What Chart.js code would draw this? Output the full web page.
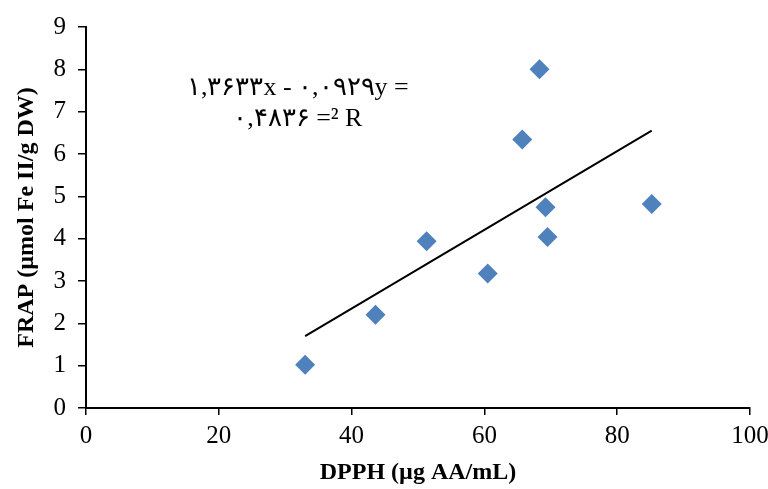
<!DOCTYPE html>
<html>
<head>
<meta charset="utf-8">
<script src="https://cdn.jsdelivr.net/npm/chart.js@4.4.1/dist/chart.umd.min.js"></script>
<style>
  html, body { margin: 0; padding: 0; background: #fff; }
  #wrap { width: 768px; height: 489px; }
</style>
</head>
<body>
<div id="wrap"><canvas id="chart" width="768" height="489"></canvas></div>
<script>
// values
const dpph = [33.0, 43.6, 51.3, 60.5, 65.7, 68.3, 69.2, 69.5, 85.2];
const frap = [1.02, 2.20, 3.94, 3.18, 6.34, 8.00, 4.74, 4.04, 4.82];

// trendline endpoints (y = 0.0929x - 1.3633)
const trendX = [33.0, 85.2];
const trendY = [1.70, 6.55];

const eqLines = ['۱,۳۶۳۳x - ۰,۰۹۲۹y =', '۰,۴۸۳۶ =² R'];
const eqAt = { x: 31.9, y: 7.56 };

const FONT = '"Liberation Serif", "Times New Roman", serif';

const equationLabel = {
  id: 'equationLabel',
  afterDatasetsDraw(chart) {
    const { ctx, scales } = chart;
    const cx = scales.x.getPixelForValue(eqAt.x);
    const cy = scales.y.getPixelForValue(eqAt.y);
    ctx.save();
    ctx.fillStyle = '#000';
    ctx.font = '26px ' + FONT;
    ctx.textAlign = 'center';
    ctx.textBaseline = 'middle';
    ctx.direction = 'ltr';
    eqLines.forEach((t, i) => ctx.fillText(t, cx, cy + i * 31));
    ctx.restore();
  }
};

new Chart(document.getElementById('chart'), {
  type: 'scatter',
  data: {
    datasets: [
      {
        label: 'FRAP',
        data: dpph.map((x, i) => ({ x, y: frap[i] })),
        pointStyle: 'rectRot',
        pointRadius: 10,
        pointHoverRadius: 10,
        backgroundColor: '#4F81BD',
        borderColor: '#4F81BD',
        borderWidth: 0
      },
      {
        type: 'line',
        label: 'trend',
        data: trendX.map((x, i) => ({ x, y: trendY[i] })),
        borderColor: '#000',
        borderWidth: 2,
        pointRadius: 0,
        fill: false
      }
    ]
  },
  options: {
    responsive: false,
    animation: false,
    layout: { padding: { top: 26, right: 18, left: 10, bottom: 0 } },
    plugins: { legend: { display: false }, tooltip: { enabled: false } },
    scales: {
      x: {
        type: 'linear',
        min: 0, max: 100,
        ticks: { stepSize: 20, color: '#000', font: { family: FONT, size: 25 }, padding: 6 },
        grid: { drawOnChartArea: false, drawTicks: true, tickLength: 7, color: '#000', lineWidth: 1.5 },
        border: { color: '#000', width: 2 },
        title: { display: true, text: 'DPPH (µg AA/mL)', color: '#000', font: { family: FONT, size: 24, weight: 'bold' }, padding: { top: 2, bottom: 2 } },
        afterFit(s) { s.height = 81; s.paddingRight = 0; s.paddingLeft = 0; }
      },
      y: {
        min: 0, max: 9,
        ticks: { stepSize: 1, color: '#000', font: { family: FONT, size: 25 }, padding: 12 },
        grid: { drawOnChartArea: false, drawTicks: true, tickLength: 8, color: '#000', lineWidth: 1.5 },
        border: { color: '#000', width: 2 },
        title: { display: true, text: 'FRAP (µmol Fe II/g DW)', color: '#000', font: { family: FONT, size: 24, weight: 'bold' }, padding: { top: 2, bottom: 2 } },
        afterFit(s) { s.width = 76; }
      }
    }
  },
  plugins: [equationLabel]
});
</script>
</body>
</html>
